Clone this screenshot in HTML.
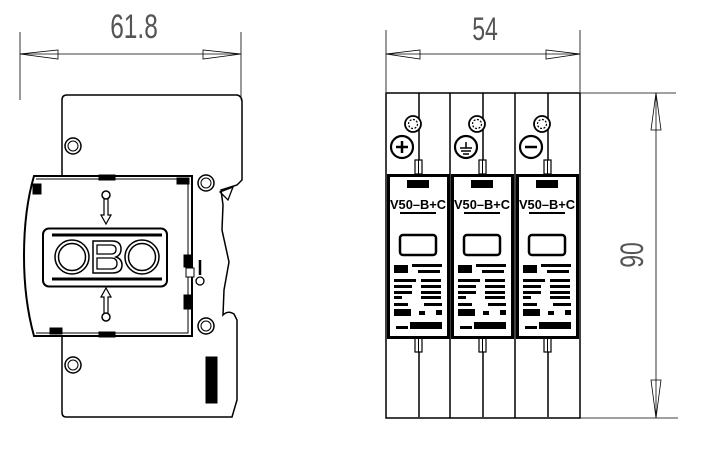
<!DOCTYPE html>
<html><head><style>
html,body{margin:0;padding:0;background:#fff;}
svg{display:block;}
text{font-family:"Liberation Sans",sans-serif;}
</style></head><body>
<svg width="701" height="449" viewBox="0 0 701 449" xmlns="http://www.w3.org/2000/svg">
<defs>
<g id="mod">
  <line x1="33" y1="93" x2="33" y2="170" stroke="#000" stroke-width="1.5"/>
  <line x1="33" y1="340" x2="33" y2="417" stroke="#000" stroke-width="1.5"/>
  <circle cx="27" cy="124" r="8" fill="#fff" stroke="#000" stroke-width="1.8"/>
  <circle cx="27" cy="124" r="4.5" fill="none" stroke="#000" stroke-width="1.2" stroke-dasharray="2 1.5"/>
  <circle cx="16" cy="147" r="11" fill="#fff" stroke="#000" stroke-width="2.2"/>
  <rect x="29" y="160" width="7" height="14" fill="#fff" stroke="#000" stroke-width="1.2"/>
  <line x1="32.5" y1="160" x2="32.5" y2="174" stroke="#000" stroke-width="1"/>
  <rect x="29" y="338" width="7" height="14" fill="#fff" stroke="#000" stroke-width="1.2"/>
  <line x1="32.5" y1="338" x2="32.5" y2="352" stroke="#000" stroke-width="1"/>
  <rect x="2.5" y="175.5" width="60" height="162" fill="#fff" stroke="#000" stroke-width="3"/>
  <rect x="21" y="180" width="22" height="8" fill="#000"/>
  <text x="4" y="209" font-size="13" font-weight="bold" textLength="56" lengthAdjust="spacingAndGlyphs">V50–B+C</text>
  <rect x="14" y="212" width="36" height="2" fill="#000"/>
  <rect x="14" y="235" width="36" height="20" rx="3" fill="#fff" stroke="#000" stroke-width="2.5"/>
  <rect x="8" y="265" width="14" height="8" fill="#000"/>
  <rect x="26" y="264" width="30" height="3" fill="#000"/>
  <rect x="32" y="270" width="22" height="3" fill="#000"/>
  <rect x="8" y="279" width="22" height="3" fill="#000"/><rect x="35" y="279" width="20" height="3" fill="#000"/>
  <rect x="8" y="285" width="18" height="3" fill="#000"/><rect x="35" y="285" width="20" height="3" fill="#000"/>
  <rect x="8" y="291" width="18" height="3" fill="#000"/><rect x="35" y="291" width="20" height="3" fill="#000"/>
  <rect x="8" y="296" width="8" height="3" fill="#000"/><rect x="35" y="296" width="20" height="3" fill="#000"/>
  <rect x="8" y="303" width="14" height="3" fill="#000"/><rect x="38" y="303" width="18" height="3" fill="#000"/>
  <rect x="8" y="309" width="17" height="7" fill="#000"/><rect x="33" y="311" width="6" height="4" fill="#000"/><rect x="50" y="310" width="6" height="5" fill="#000"/>
  <rect x="10" y="326" width="12" height="3" fill="#000"/><rect x="24" y="322" width="32" height="7" fill="#000"/>
</g>
</defs>
<g stroke="#000" fill="none">
  <line x1="20" y1="32" x2="20" y2="100" stroke-width="0.8"/>
  <line x1="241" y1="32" x2="241" y2="100" stroke-width="0.8"/>
  <line x1="20" y1="54" x2="241" y2="54" stroke-width="0.8"/>
  <polygon points="20,54 58,50 58,59" stroke-width="0.8"/>
  <polygon points="241,54 203,50 203,59" stroke-width="0.8"/>
  <path d="M62,100 Q62,95 67,95 L237,95 Q242,96 242,102 L242,180 L237,185 L221,190 L223,205 L222,230 L229,262 L224,290 L223,315 Q228,310 234,314 L237,320 L237,400 L232,417 L66,417 Q62,417 62,412 L62,337" stroke-width="1.5"/>
  <line x1="62" y1="100" x2="62" y2="175" stroke-width="1.5"/>
  <polygon points="220,192 233,187 228,200" stroke-width="1.3"/>
  <circle cx="73" cy="146" r="8" stroke-width="1.5"/><circle cx="73" cy="146" r="5" stroke-width="1"/>
  <circle cx="206" cy="183" r="8" stroke-width="1.5"/><circle cx="206" cy="183" r="5" stroke-width="1"/>
  <circle cx="206" cy="326" r="8" stroke-width="1.5"/><circle cx="206" cy="326" r="5" stroke-width="1"/>
  <circle cx="73" cy="365" r="8" stroke-width="1.5"/><circle cx="73" cy="365" r="5" stroke-width="1"/>
  <path d="M34,176 L192,176 L192,336 L34,336 Q24,300 24,256 Q24,210 34,176 Z" fill="#fff" stroke-width="2"/>
  <path d="M36,179 L188,179 L188,333 L36,333" stroke-width="1"/>
  <rect x="33" y="184" width="8" height="10" fill="#000"/>
  <rect x="99" y="175" width="16" height="5" fill="#000"/>
  <rect x="177" y="178" width="12" height="6" fill="#000"/>
  <rect x="99" y="332" width="16" height="5" fill="#000"/>
  <rect x="50" y="328" width="12" height="6" fill="#000"/>
  <rect x="184" y="255" width="8" height="12" fill="#000"/>
  <rect x="184" y="295" width="8" height="14" fill="#000"/>
  <rect x="186" y="268" width="8" height="9" fill="#fff" stroke-width="1"/>
  <line x1="200" y1="260" x2="200" y2="275" stroke-width="2.5"/>
  <circle cx="200" cy="281" r="4" fill="#fff" stroke-width="1.3"/>
  <circle cx="106" cy="195" r="4" stroke-width="1.5"/>
  <path d="M104,199 L104,215 L101,215 L106,224 L111,215 L108,215 L108,199" stroke-width="1.2"/>
  <circle cx="106" cy="317" r="4" stroke-width="1.5"/>
  <path d="M104,313 L104,297 L101,297 L106,288 L111,297 L108,297 L108,313" stroke-width="1.2"/>
  <rect x="43" y="228.5" width="124" height="58" rx="6" stroke-width="2"/>
  <line x1="52" y1="235" x2="162" y2="235" stroke-width="3"/>
  <line x1="52" y1="279" x2="162" y2="279" stroke-width="3"/>
  <circle cx="72" cy="257" r="17" stroke-width="1.5"/><circle cx="72" cy="257" r="13.5" stroke-width="1.5"/>
  <circle cx="142" cy="257" r="17" stroke-width="1.5"/><circle cx="142" cy="257" r="13.5" stroke-width="1.5"/>
  <path d="M93,241 L112,241 Q121,241 121,249 Q121,255 116,257 Q122,259 122,265 Q122,273 112,273 L93,273 Z" stroke-width="1.5"/>
  <path d="M97,245 L111,245 Q116,245 116,249.5 Q116,254 111,254 L97,254 Z M97,258 L111,258 Q117,258 117,263.5 Q117,269 111,269 L97,269 Z" stroke-width="1.3"/>
  <rect x="206" y="357" width="11" height="46" fill="#000"/>

  <line x1="386" y1="30" x2="386" y2="92" stroke-width="0.8"/>
  <line x1="580" y1="30" x2="580" y2="92" stroke-width="0.8"/>
  <line x1="386" y1="54" x2="580" y2="54" stroke-width="0.8"/>
  <polygon points="386,54 420,50 420,59" stroke-width="0.8"/>
  <polygon points="580,54 546,50 546,59" stroke-width="0.8"/>
  <line x1="580" y1="93" x2="676" y2="93" stroke-width="0.8"/>
  <line x1="580" y1="418" x2="678" y2="418" stroke-width="0.8"/>
  <line x1="656" y1="93" x2="656" y2="418" stroke-width="0.8"/>
  <polygon points="656,93 651,130 661,130" stroke-width="0.8"/>
  <polygon points="656,418 651,380 661,380" stroke-width="0.8"/>
  <rect x="386" y="93" width="194" height="325" stroke-width="1.5"/>
  <line x1="450" y1="93" x2="450" y2="418" stroke-width="1.5"/>
  <line x1="515" y1="93" x2="515" y2="418" stroke-width="1.5"/>
</g>
<use href="#mod" x="386"/>
<use href="#mod" x="450"/>
<use href="#mod" x="515"/>
<g stroke="#000" stroke-width="2.5">
  <line x1="396" y1="147" x2="408" y2="147"/><line x1="402" y1="141" x2="402" y2="153"/>
  <line x1="466" y1="142" x2="466" y2="148" stroke-width="1.5"/><line x1="460" y1="148" x2="472" y2="148" stroke-width="1.5"/><line x1="461" y1="151" x2="471" y2="151" stroke-width="1.5"/><line x1="463" y1="154" x2="469" y2="154" stroke-width="1.5"/>
  <line x1="525" y1="147" x2="537" y2="147"/>
</g>
<text x="0" y="0" font-size="34" text-anchor="middle" fill="#555" transform="translate(134,38) scale(0.72,1)">61.8</text>
<text x="0" y="0" font-size="32" text-anchor="middle" fill="#555" transform="translate(485,40) scale(0.72,1)">54</text>
<text x="0" y="0" font-size="32" text-anchor="middle" fill="#555" transform="translate(643,255) rotate(-90) scale(0.72,1)">90</text>
</svg>
</body></html>
